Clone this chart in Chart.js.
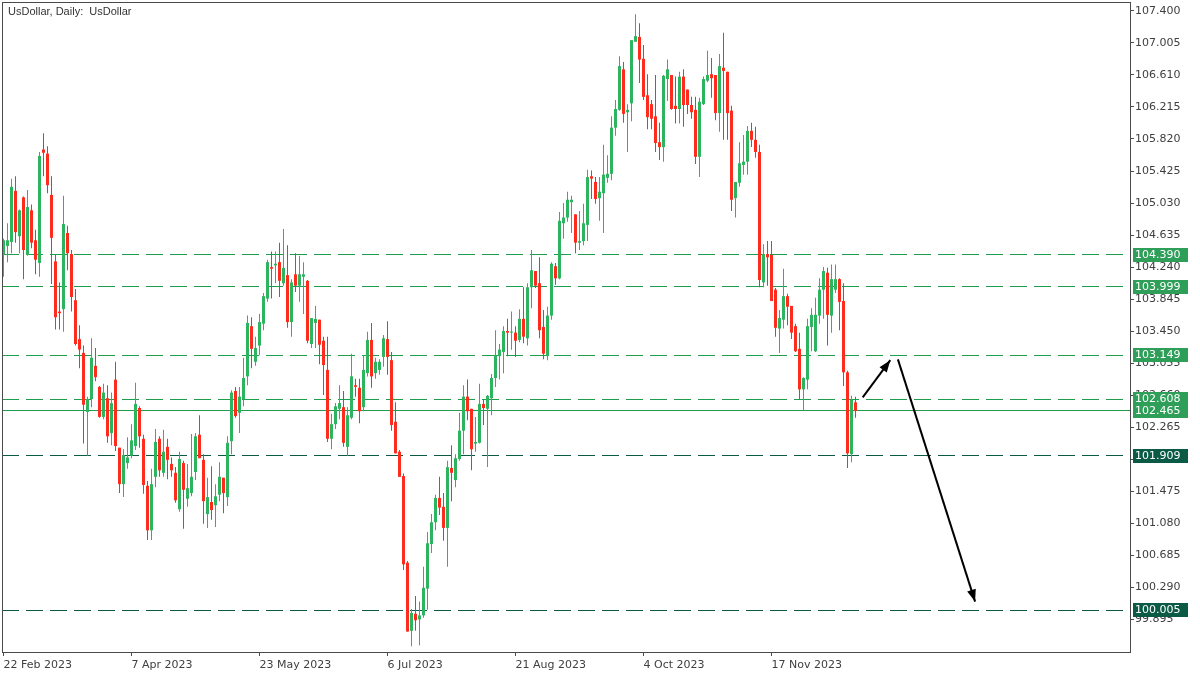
<!DOCTYPE html>
<html>
<head>
<meta charset="utf-8">
<script src="https://cdn.jsdelivr.net/npm/chart.js@4.4.0/dist/chart.umd.min.js"></script>
<style>
  html, body { margin: 0; padding: 0; background: #ffffff; }
  #wrap { width: 1200px; height: 675px; }
</style>
</head>
<body>
<div id="wrap"><canvas id="myChart" width="1200" height="675"></canvas></div>
<script>
// daily candles (bar index 0 = 22 Feb 2023)
const opens = [104.39,104.50,104.55,105.18,104.62,105.10,104.39,104.94,104.57,104.29,105.69,105.64,105.13,104.31,103.69,103.72,104.66,104.40,103.83,103.35,
103.18,102.45,102.61,103.02,102.76,102.39,102.62,102.19,102.85,102.01,101.56,101.82,101.91,102.03,102.50,102.12,101.54,100.99,101.65,102.12,
101.70,102.02,101.81,101.70,101.25,101.82,101.38,101.45,101.71,102.17,101.86,101.19,101.34,101.30,101.43,101.64,101.40,102.09,102.71,102.44,
102.61,102.89,103.51,103.07,103.27,103.54,103.85,104.24,104.26,104.30,104.04,104.14,103.56,104.15,104.01,104.12,104.07,103.29,103.55,103.59,
103.33,102.97,102.12,102.30,102.49,102.51,102.02,102.38,102.78,102.75,102.51,102.93,103.34,102.93,102.97,103.13,103.35,103.09,102.33,101.96,
101.66,100.59,99.75,99.96,99.89,99.94,100.27,100.82,101.09,101.39,101.28,101.02,101.76,101.61,101.87,102.22,102.64,102.49,102.06,102.07,
102.55,102.49,102.62,102.87,103.14,103.19,103.45,103.43,103.43,103.34,103.60,103.36,103.99,104.19,104.04,103.50,103.14,103.64,104.25,104.10,
104.78,104.85,105.04,104.89,104.54,104.56,104.76,105.36,105.29,105.09,105.15,105.34,105.39,105.96,106.18,106.68,106.15,106.26,107.02,107.08,
106.81,106.36,106.25,106.10,105.78,105.72,106.56,106.61,106.23,106.19,106.59,106.43,106.24,106.18,105.60,106.25,106.54,106.62,106.61,106.14,
106.70,106.65,106.17,105.09,105.28,105.50,105.54,105.92,105.81,105.66,104.05,104.40,104.39,103.96,103.48,103.59,103.88,103.76,103.51,103.23,
102.73,102.85,103.50,103.20,103.64,103.96,104.17,103.64,103.96,104.09,103.82,102.94,101.93,102.57];
const highs = [104.59,104.78,105.33,105.36,104.95,105.11,105.19,105.01,104.70,105.66,105.89,105.73,105.36,104.39,104.05,105.12,104.75,104.45,103.97,103.52,
103.27,102.64,103.36,103.24,102.77,102.80,102.78,102.69,103.07,102.01,101.99,102.14,102.30,102.81,102.52,102.17,101.60,101.75,102.24,102.15,
102.23,102.12,101.89,101.77,101.96,101.85,101.81,102.18,102.19,102.41,101.93,101.64,101.78,101.56,101.83,101.64,102.15,102.72,102.76,102.76,
103.12,103.64,103.62,103.38,103.66,103.92,104.33,104.43,104.43,104.54,104.71,104.51,104.09,104.41,104.38,104.30,104.08,103.61,103.76,103.59,
103.38,103.38,102.43,102.56,102.78,102.71,102.51,103.17,102.86,102.86,103.15,103.44,103.55,103.12,103.10,103.40,103.57,103.19,102.57,101.98,
101.69,100.61,100.02,100.18,100.11,100.54,100.97,101.19,101.43,101.65,101.45,101.85,102.04,101.93,102.44,102.78,102.85,102.49,102.39,102.80,
102.60,102.66,102.92,103.46,103.29,103.51,103.60,103.69,103.51,103.72,103.99,104.04,104.45,104.19,104.36,103.71,103.75,104.30,104.29,104.92,
105.03,105.17,105.12,104.89,104.93,105.02,105.44,105.43,105.35,105.35,105.75,105.62,106.10,106.30,106.84,106.77,106.25,107.04,107.36,107.25,
106.98,106.62,106.30,106.61,106.02,106.61,106.80,106.61,106.59,106.65,106.68,106.43,106.34,106.34,106.33,106.59,106.91,106.82,106.61,106.87,
107.13,106.65,106.23,105.29,105.78,105.87,105.98,106.02,105.97,105.75,104.52,104.56,104.56,103.98,103.71,104.22,103.91,103.76,103.54,103.43,
102.88,103.60,103.73,103.86,104.10,104.24,104.23,104.27,104.27,104.10,104.04,102.96,102.65,102.64];
const lows = [104.12,104.30,104.41,104.54,104.41,104.09,104.38,104.47,104.15,104.12,105.36,105.15,104.03,103.47,103.47,103.44,104.20,103.69,103.27,102.99,
102.06,101.91,102.51,102.83,102.38,102.36,102.07,102.04,101.97,101.45,101.40,101.75,101.88,101.98,102.01,101.44,100.87,100.87,101.52,101.65,
101.65,101.62,101.65,101.33,101.22,101.01,101.28,101.41,101.61,101.88,101.07,101.02,101.12,101.03,101.35,101.20,101.29,101.93,102.38,102.19,
102.52,102.78,102.99,103.02,103.15,103.46,103.81,103.85,104.04,103.87,104.01,103.49,103.38,103.93,103.81,103.66,103.30,103.24,103.24,103.04,
102.66,102.08,101.99,102.24,102.36,102.02,101.91,102.36,102.64,102.31,102.46,102.89,102.75,102.86,102.91,103.01,102.91,102.22,101.94,101.65,
100.50,99.74,99.56,99.75,99.57,99.91,100.01,100.71,100.99,101.18,100.86,100.54,101.35,101.52,101.85,101.93,102.35,101.73,101.96,102.06,
102.29,101.77,102.41,102.76,102.85,102.93,103.14,103.22,103.13,103.31,103.30,103.27,103.73,103.98,103.36,103.10,103.09,103.59,104.02,104.09,
104.59,104.80,104.66,104.41,104.45,104.51,104.56,105.08,105.02,104.81,104.66,105.28,105.31,105.86,106.17,106.02,105.66,106.04,107.02,106.51,
106.30,105.94,105.94,105.66,105.56,105.54,106.29,106.18,106.01,106.01,105.97,106.13,106.07,105.51,105.35,106.24,106.52,106.33,106.05,105.91,
105.81,105.81,104.93,104.85,105.23,105.38,105.38,105.72,105.59,103.99,103.99,104.01,103.82,103.38,103.18,103.48,103.52,103.35,103.19,102.61,
102.47,102.73,103.20,103.19,103.54,103.60,103.27,103.43,103.92,103.46,102.77,101.76,101.83,102.38];
const closes = [104.57,104.57,105.23,104.67,104.94,104.45,104.98,104.54,104.33,105.61,105.65,105.25,104.60,103.62,103.67,104.77,104.41,103.87,103.29,103.22,
102.54,102.61,103.12,102.88,102.39,102.69,102.15,102.56,102.03,101.56,101.92,101.89,102.10,102.55,102.15,101.55,100.99,101.56,102.08,101.73,
101.96,101.86,101.73,101.36,101.87,101.49,101.51,101.65,102.15,101.88,101.35,101.40,101.24,101.41,101.65,101.45,102.07,102.69,102.40,102.64,
102.87,103.55,103.23,103.24,103.56,103.88,104.30,104.22,104.28,104.07,104.23,103.56,104.05,104.01,104.15,104.15,103.33,103.61,103.60,103.28,
103.03,102.12,102.30,102.52,102.56,102.07,102.41,102.89,102.76,102.46,102.97,103.34,102.89,103.07,103.07,103.36,103.13,102.29,101.94,101.65,
100.57,99.74,99.97,99.88,99.94,100.28,100.83,101.09,101.39,101.27,101.02,101.77,101.70,101.88,102.22,102.64,102.46,101.99,102.08,102.55,
102.50,102.65,102.87,103.15,103.22,103.45,103.43,103.44,103.33,103.60,103.38,103.99,104.20,104.01,103.46,103.17,103.64,104.28,104.10,104.81,
104.85,105.07,105.07,104.54,104.56,104.78,105.35,105.33,105.08,105.17,105.38,105.39,105.96,106.19,106.72,106.13,106.18,107.04,107.09,106.80,
106.34,106.09,106.07,105.77,105.72,106.60,106.68,106.19,106.19,106.59,106.24,106.24,106.15,105.60,106.28,106.56,106.61,106.57,106.14,106.72,
106.66,106.14,105.07,105.29,105.52,105.54,105.92,105.81,105.66,104.08,104.40,104.36,103.82,103.49,103.61,103.88,103.75,103.43,103.20,102.73,
102.87,103.51,103.65,103.65,103.96,104.19,103.65,104.09,104.09,103.81,102.94,101.94,102.60,102.465];

// bottom axis labels and the bars they sit on
const dateLabels = ['22 Feb 2023', '7 Apr 2023', '23 May 2023', '6 Jul 2023', '21 Aug 2023', '4 Oct 2023', '17 Nov 2023'];
const dateLabelBars = [0, 32, 64, 96, 128, 160, 192];

// right axis labels
const priceTicks = [107.400, 107.005, 106.610, 106.215, 105.820, 105.425, 105.030, 104.635, 104.240, 103.845,
  103.450, 103.055, 102.660, 102.265, 101.870, 101.475, 101.080, 100.685, 100.290, 99.895];

// horizontal levels drawn on the chart
const levelPrices = [104.390, 103.999, 103.149, 102.608, 101.909, 100.005];
const levelDark = [false, false, false, false, true, true];
const lastPrice = 102.465;

// the two arrows, as [bar, price] pairs (start, end)
const arrowUp = [[214.8, 102.63], [221.7, 103.09]];
const arrowDown = [[223.6, 103.10], [242.9, 100.11]];

const UP = '#2db45f';
const DOWN = '#ff2b1c';
const LEVEL = '#1f9c4c';
const LEVEL_DARK = '#0b5a45';
const BOX = '#2e9e58';
const BOX_DARK = '#0b5a45';

const X_MIN = -0.375;
const X_MAX = 281.625;

function candleColor(ctx) {
  const i = ctx.dataIndex;
  return closes[i] >= opens[i] ? UP : DOWN;
}

const wicks = opens.map((o, i) => ({ x: i, y: [lows[i], highs[i]] }));
const bodies = opens.map((o, i) => ({ x: i, y: [o, closes[i]] }));

const datasets = [];

// levels first so candles sit on top
levelPrices.forEach((v, k) => {
  datasets.push({
    type: 'line',
    level: true,
    data: [{ x: X_MIN, y: v }, { x: X_MAX, y: v }],
    borderColor: levelDark[k] ? LEVEL_DARK : LEVEL,
    borderWidth: 1,
    borderDash: [17, 7],
    pointRadius: 0,
    fill: false,
    order: 5
  });
});
datasets.push({
  type: 'line',
  level: true,
  data: [{ x: X_MIN, y: lastPrice }, { x: X_MAX, y: lastPrice }],
  borderColor: LEVEL,
  borderWidth: 1,
  pointRadius: 0,
  fill: false,
  order: 5
});

datasets.push({
  type: 'bar',
  data: wicks,
  backgroundColor: candleColor,
  barThickness: 1,
  grouped: false,
  inflateAmount: 0,
  order: 3
});
datasets.push({
  type: 'bar',
  data: bodies,
  backgroundColor: candleColor,
  barThickness: 3,
  minBarLength: 1,
  grouped: false,
  inflateAmount: 0,
  order: 2
});

[arrowUp, arrowDown].forEach(a => {
  datasets.push({
    type: 'line',
    arrow: true,
    data: a.map(p => ({ x: p[0], y: p[1] })),
    borderColor: '#000000',
    borderWidth: 2,
    pointRadius: 0,
    fill: false,
    order: 1
  });
});

// frame, title, arrow heads and the price boxes on the right
const extras = {
  id: 'extras',
  beforeDatasetDraw(chart, args) {
    const ds = chart.data.datasets[args.index];
    if (!ds.level) return;
    // snap the 1px level lines onto whole pixels so they stay crisp
    const py = args.meta.data[0].y;
    const snapped = Math.round(py - 0.5) + 0.5;
    chart.ctx.save();
    chart.ctx.translate(0, snapped - py);
  },
  afterDatasetDraw(chart, args) {
    const ds = chart.data.datasets[args.index];
    if (ds.level) chart.ctx.restore();
  },
  afterDatasetsDraw(chart) {
    const ctx = chart.ctx;
    chart.data.datasets.forEach((ds, i) => {
      if (!ds.arrow) return;
      const pts = chart.getDatasetMeta(i).data;
      const a = pts[pts.length - 2];
      const b = pts[pts.length - 1];
      const ang = Math.atan2(b.y - a.y, b.x - a.x);
      ctx.save();
      ctx.fillStyle = '#000000';
      ctx.translate(b.x, b.y);
      ctx.rotate(ang);
      ctx.beginPath();
      ctx.moveTo(0, 0);
      ctx.lineTo(-12, -4.5);
      ctx.lineTo(-12, 4.5);
      ctx.closePath();
      ctx.fill();
      ctx.restore();
    });
  },
  afterDraw(chart) {
    const ctx = chart.ctx;
    const area = chart.chartArea;
    const y = chart.scales.y;
    ctx.save();
    ctx.strokeStyle = '#4a4a4a';
    ctx.lineWidth = 1;
    ctx.strokeRect(area.left + 0.5, area.top + 0.5, area.right - area.left, area.bottom - area.top);

    ctx.fillStyle = '#333333';
    ctx.font = '11px "Liberation Sans", Arial, sans-serif';
    ctx.textBaseline = 'middle';
    ctx.textAlign = 'left';
    ctx.fillText('UsDollar, Daily:  UsDollar', 8, 12);

    ctx.font = '11px "DejaVu Sans", sans-serif';
    const boxes = levelPrices.map((v, k) => [v, levelDark[k] ? BOX_DARK : BOX]);
    boxes.push([lastPrice, BOX]);
    boxes.forEach(b => {
      const py = Math.round(y.getPixelForValue(b[0]));
      ctx.fillStyle = b[1];
      ctx.fillRect(area.right + 3, py - 7, 55, 14);
      ctx.fillStyle = '#ffffff';
      ctx.fillText(b[0].toFixed(3), area.right + 5, py + 0.5);
    });
    ctx.restore();
  }
};

// drop the automatic label padding so the plot frame sits at the edges
function noPadding(scale) {
  scale.paddingLeft = 0;
  scale.paddingRight = 0;
  scale.paddingTop = 0;
  scale.paddingBottom = 0;
}

const myChart = new Chart(document.getElementById('myChart'), {
  type: 'bar',
  data: { datasets: datasets },
  options: {
    responsive: false,
    animation: false,
    devicePixelRatio: 1,
    layout: { padding: { left: 2, top: 2, right: 0, bottom: 0 } },
    plugins: {
      legend: { display: false },
      tooltip: { enabled: false }
    },
    scales: {
      x: {
        type: 'linear',
        offset: false,
        min: X_MIN,
        max: X_MAX,
        afterBuildTicks: scale => {
          scale.ticks = dateLabelBars.map(v => ({ value: v }));
        },
        afterFit: scale => { scale.height = 23; noPadding(scale); },
        grid: { offset: false, drawOnChartArea: false, drawTicks: true, tickLength: 4, color: '#4a4a4a' },
        border: { display: true, color: '#4a4a4a' },
        ticks: {
          autoSkip: false,
          maxRotation: 0,
          align: 'start',
          padding: 3,
          color: '#404040',
          font: { family: 'DejaVu Sans', size: 11 },
          callback: (val, index) => dateLabels[index]
        }
      },
      y: {
        position: 'right',
        min: 99.488,
        max: 107.511,
        afterBuildTicks: scale => {
          scale.ticks = priceTicks.map(v => ({ value: v }));
        },
        afterFit: scale => { scale.width = 70; noPadding(scale); },
        grid: { drawOnChartArea: false, drawTicks: true, tickLength: 4, color: '#4a4a4a' },
        border: { display: true, color: '#4a4a4a' },
        ticks: {
          padding: 1,
          color: '#404040',
          font: { family: 'DejaVu Sans', size: 11 },
          callback: val => val.toFixed(3)
        }
      }
    }
  },
  plugins: [extras]
});
</script>
</body>
</html>
